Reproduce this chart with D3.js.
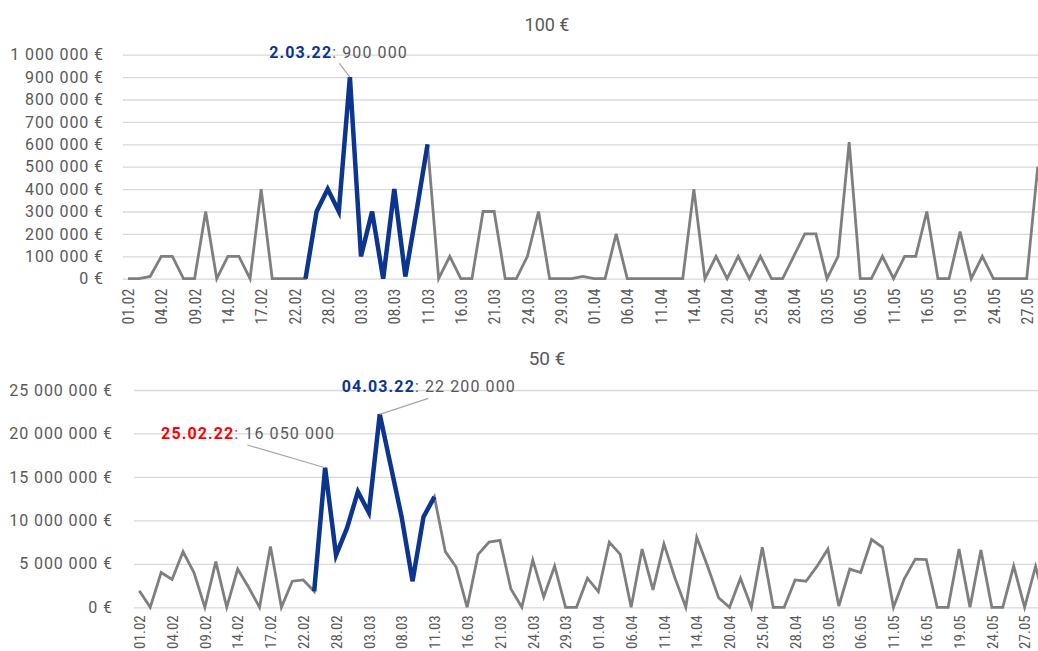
<!DOCTYPE html>
<html>
<head>
<meta charset="utf-8">
<script src="https://cdn.jsdelivr.net/npm/d3@7"></script>
<style>
	body { margin: 0; background: #fff; }
	text { font-family: Roboto, "Noto Sans", sans-serif; fill: #595959; }
	.xlab text { font-family: "Liberation Sans Narrow", "Roboto Condensed", Roboto, sans-serif; }
	.ylab text { font-size: 16px; letter-spacing: 0.9px; }
</style>
</head>
<body>
<div id="main"></div>
<script>

// trading days, only every 3rd one is labelled
var dates = ["01.02","02.02","03.02","04.02","07.02","08.02","09.02","10.02","11.02","14.02",
	"15.02","16.02","17.02","18.02","21.02","22.02","24.02","25.02","28.02","01.03",
	"02.03","03.03","04.03","05.03","08.03","09.03","10.03","11.03","14.03","15.03",
	"16.03","17.03","18.03","21.03","22.03","23.03","24.03","25.03","28.03","29.03",
	"30.03","31.03","01.04","04.04","05.04","06.04","07.04","08.04","11.04","12.04",
	"13.04","14.04","15.04","19.04","20.04","21.04","22.04","25.04","26.04","27.04",
	"28.04","29.04","30.04","03.05","04.05","05.05","06.05","07.05","10.05","11.05",
	"12.05","13.05","16.05","17.05","18.05","19.05","20.05","23.05","24.05","25.05",
	"26.05","27.05","30.05","31.05"];

var notes100 = [0,0,10000,100000,100000,0,0,300000,0,100000,
	100000,0,400000,0,0,0,0,300000,400000,300000,
	900000,100000,300000,0,400000,10000,300000,600000,0,100000,
	0,0,300000,300000,0,0,100000,300000,0,0,
	0,10000,0,0,200000,0,0,0,0,0,
	0,400000,0,100000,0,100000,0,100000,0,0,
	100000,200000,200000,0,100000,610000,0,0,100000,0,
	100000,100000,300000,0,0,210000,0,100000,0,0,
	0,0,500000,null];

var notes50 = [1900000,0,4000000,3200000,6400000,4000000,0,5250000,0,4400000,
	2300000,0,7000000,0,3000000,3150000,1850000,16050000,6000000,9100000,
	13300000,10900000,22200000,16300000,10400000,3000000,10400000,12700000,6400000,4600000,
	0,6100000,7500000,7700000,2100000,0,5450000,1200000,4750000,0,
	0,3350000,1800000,7500000,6100000,0,6700000,2000000,7300000,3400000,
	0,8050000,4700000,1100000,0,3350000,0,6900000,0,0,
	3150000,3000000,4700000,6700000,150000,4400000,4000000,7800000,6900000,0,
	3300000,5550000,5500000,0,0,6700000,0,6600000,0,0,
	4750000,0,4700000,0];

var ticks100 = [0,100000,200000,300000,400000,500000,600000,700000,800000,900000,1000000];
var ticks50 = [0,5000000,10000000,15000000,20000000,25000000];

// crisis stretch drawn in blue
var highlightStart = 16, highlightEnd = 27;

var labels100 = [{ i: 20, text: "2.03.22", color: "#0b3590" }];
var labels50 = [{ i: 17, text: "25.02.22", color: "#ff0000" },
	{ i: 22, text: "04.03.22", color: "#0b3590" }];

var w = 1038, h = 651;

var locale = d3.formatLocale({ decimal: ",", thousands: " ", grouping: [3], currency: ["", " €"] });
var fmtEuro = locale.format("$,"),
	fmtNum = locale.format(",");

var svg = d3.select("#main")
	.append("svg")
	.attr("width", w)
	.attr("height", h);

function drawPanel(opt) {
	var g = svg.append("g");

	var x = d3.scalePoint()
		.domain(dates)
		.range(opt.xRange);

	var y = d3.scaleLinear()
		.domain([0, opt.ticks[opt.ticks.length - 1]])
		.range(opt.yRange);

	// title
	g.append("text")
		.attr("x", 547)
		.attr("y", opt.titleY)
		.attr("text-anchor", "middle")
		.style("font-size", opt.titleSize)
		.text(opt.title);

	// y axis + gridlines
	var yAxis = d3.axisLeft(y)
		.tickValues(opt.ticks)
		.tickSize(-(w - opt.gridLeft))
		.tickPadding(opt.gridLeft - opt.tickRight)
		.tickFormat(fmtEuro);

	g.append("g")
		.attr("class", "ylab")
		.attr("transform", "translate(" + opt.gridLeft + ",0)")
		.call(yAxis)
		.call(function(a) {
			a.select(".domain").remove();
			a.selectAll("line").attr("stroke", "#d9d9d9").attr("stroke-width", 1.3);
		});

	// x axis labels
	var xAxis = d3.axisBottom(x)
		.tickValues(dates.filter(function(d, i) { return i % 3 === 0; }))
		.tickSize(0);

	g.append("g")
		.attr("class", "xlab")
		.attr("transform", "translate(0," + y(0) + ")")
		.call(xAxis)
		.call(function(a) {
			a.select(".domain").remove();
			a.selectAll("text")
				.attr("transform", "rotate(-90)")
				.attr("x", -opt.xLabGap)
				.attr("y", 0)
				.attr("dy", "0.35em")
				.style("font-size", opt.xLabSize)
				.style("text-anchor", "end");
		});

	var line = d3.line()
		.defined(function(d) { return d != null; })
		.x(function(d, i) { return x(dates[i]); })
		.y(function(d) { return y(d); });

	g.append("path")
		.datum(opt.values)
		.attr("fill", "none")
		.attr("stroke", "#7f7f7f")
		.attr("stroke-width", 2.8)
		.attr("d", line);

	var hiLine = d3.line()
		.defined(function(d, i) { return d != null && i >= highlightStart && i <= highlightEnd; })
		.x(function(d, i) { return x(dates[i]); })
		.y(function(d) { return y(d); });

	g.append("path")
		.datum(opt.values)
		.attr("fill", "none")
		.attr("stroke", "#0b3590")
		.attr("stroke-width", 4.5)
		.attr("d", hiLine);

	// data callouts
	opt.labels.forEach(function(l, k) {
		var off = opt.offsets[k],
			px = x(dates[l.i]),
			py = y(opt.values[l.i]);

		g.append("line")
			.attr("x1", px + off.lx)
			.attr("y1", py + off.ly)
			.attr("x2", px)
			.attr("y2", py)
			.attr("stroke", "#a6a6a6")
			.attr("stroke-width", 1.2);

		var t = g.append("text")
			.attr("x", px + off.tx)
			.attr("y", py + off.ty)
			.style("font-size", "16px")
			.style("letter-spacing", "1.1px");
		t.append("tspan")
			.style("font-weight", "bold")
			.style("fill", l.color)
			.text(l.text);
		t.append("tspan")
			.text(": " + fmtNum(opt.values[l.i]));
	});
}

drawPanel({
	title: "100 €",
	titleY: 31,
	titleSize: "18px",
	values: notes100,
	ticks: ticks100,
	labels: labels100,
	offsets: [{ lx: -10.6, ly: -13.8, tx: -80.6, ty: -18.8 }],
	xRange: [128, 128 + 83 * 11.095],
	yRange: [278.7, 54.7],
	gridLeft: 123,
	tickRight: 104,
	xLabGap: 10,
	xLabSize: "16px"
});

drawPanel({
	title: "50 €",
	titleY: 365,
	titleSize: "19px",
	values: notes50,
	ticks: ticks50,
	labels: labels50,
	offsets: [{ lx: -77.8, ly: -22.8, tx: -164, ty: -28.8 },
		{ lx: 48.5, ly: -16, tx: -38, ty: -22.6 }],
	xRange: [139.3, 139.3 + 83 * 10.93],
	yRange: [607.3, 390],
	gridLeft: 134,
	tickRight: 113,
	xLabGap: 8,
	xLabSize: "15px"
});

</script>
</body>
</html>
